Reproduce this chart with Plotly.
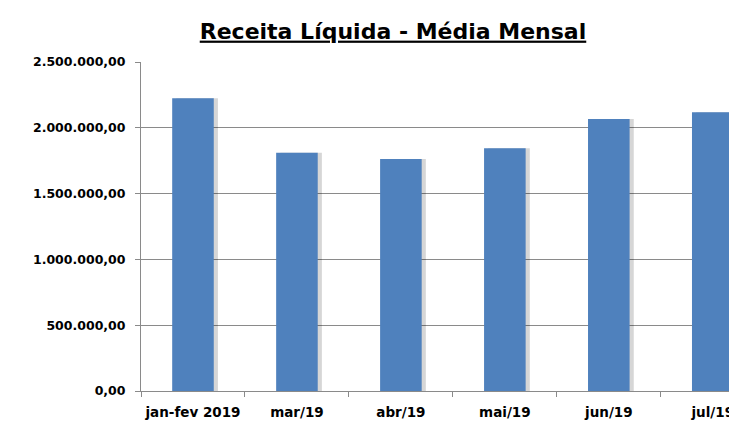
import plotly.graph_objects as go

categorias = ["jan-fev 2019", "mar/19", "abr/19", "mai/19", "jun/19", "jul/19"]
receita = [2225000, 1810000, 1762000, 1845000, 2066000, 2118000]
y_ticks = [0, 500000, 1000000, 1500000, 2000000, 2500000]

cinza = "#8A8A8A"
fonte = "DejaVu Sans"

fig = go.Figure()
# sombra leve a direita das barras (estilo Excel)
fig.add_trace(go.Bar(
    x=categorias, y=receita,
    marker=dict(color="rgba(0,0,0,0.16)", line=dict(width=0)),
    width=0.4, offset=-0.2 + 0.04,
    hoverinfo="skip",
))
fig.add_trace(go.Bar(
    x=categorias, y=receita,
    marker=dict(color="#4F81BD", line=dict(width=0)),
    width=0.4, offset=-0.2,
))

# o body da pagina tem margem de 8px, por isso as margens descontam 8;
# a figura passa um pouco da janela a direita, como no original (jul/19 cortado)
fig.update_layout(
    width=737, height=417,
    paper_bgcolor="white", plot_bgcolor="white",
    separators=",.",
    barmode="overlay",
    showlegend=False,
    margin=dict(l=133, r=0, t=54, b=34),
    title=dict(
        text="<u>Receita Líquida - Média Mensal</u>",
        x=385 / 737, xanchor="center", y=0.945, yanchor="middle",
        font=dict(family=fonte, size=22, color="black", weight="bold"),
    ),
    font=dict(family=fonte, color="black"),
)

fig.update_yaxes(
    range=[0, 2500000], tickvals=y_ticks, tickformat=",.2f",
    showgrid=True, gridcolor=cinza, gridwidth=1,
    showline=True, linecolor=cinza, linewidth=1,
    ticks="outside", ticklen=5, tickcolor=cinza,
    ticklabelstandoff=7, automargin=False,
    tickfont=dict(size=12.5, weight="bold", family=fonte),
    zeroline=False,
)
fig.update_xaxes(
    range=[-0.5, 5.31],
    showline=True, linecolor=cinza, linewidth=1,
    ticks="outside", ticklen=5, tickcolor=cinza, tickson="boundaries",
    tickangle=0, automargin=False,
    tickfont=dict(size=13.5, weight="bold", family=fonte),
    ticklabelstandoff=9,
)

fig.write_html("out.html")
